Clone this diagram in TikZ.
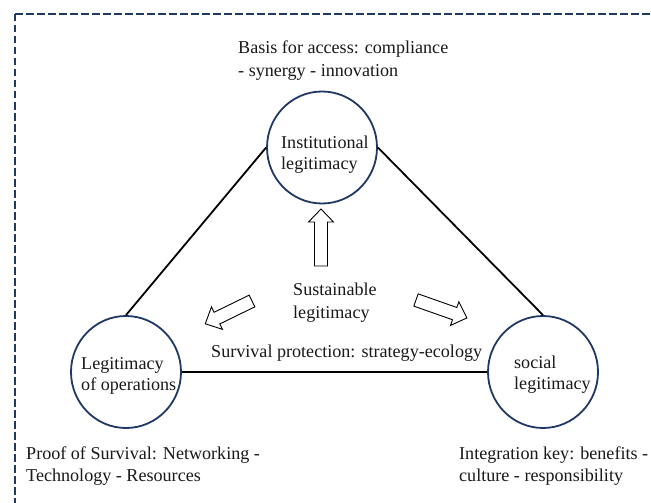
\documentclass[tikz,border=0pt]{standalone}
\usepackage{fontspec}
\setmainfont{Liberation Serif}
\usetikzlibrary{shapes.geometric}
\definecolor{navy}{RGB}{32,56,100}

% hollow block arrow: tail x, tail y, direction angle, length
\newcommand\hollowarrow[4]{%
  \draw[blockarrow, shift={(#1,#2)}, rotate=#3]
    (0,-6.5) -- ({#4-13},-6.5) -- ({#4-13},-12.5) -- (#4,0)
    -- ({#4-13},12.5) -- ({#4-13},6.5) -- (0,6.5) -- cycle;}

\begin{document}
\begin{tikzpicture}[x=1pt,y=-1pt,
  ring/.style={ellipse, draw=navy, line width=1.8pt, minimum width=110pt,
    minimum height=112pt, inner sep=0pt},
  link/.style={draw=black, line width=1.8pt},
  txt/.style={anchor=base west, inner sep=0pt, text=black!90,
    font=\fontsize{18.1}{23}\selectfont},
  blockarrow/.style={draw=black, fill=white, line width=0.9pt, line join=miter},
  frame/.style={draw=navy, line width=2pt, dash pattern=on 7.5pt off 3.5pt}]

\useasboundingbox (0,0) rectangle (651,503);
\fill[white] (0,0) rectangle (651,503);

% dashed frame (top and left sides)
\coordinate (corner) at (15,14);
\coordinate (topend) at (651,14);
\coordinate (leftend) at (15,503);
\draw[frame] (corner) -- (topend);
\draw[frame] (corner) -- (leftend);

% the three legitimacy circles
\node[ring] (inst) at (322,147.5) {};
\node[ring] (ops) at (126,372) {};
\node[ring] (soc) at (543,372) {};

% triangle sides
\draw[link] (inst.west) -- (ops.north);
\draw[link] (inst.east) -- (soc.north);
\draw[link] (ops.east) -- (soc.west);

% hollow arrows out of the centre
\hollowarrow{321}{266}{90}{57}
\hollowarrow{252}{301}{206}{52}
\hollowarrow{416}{300}{-19.4}{54}

% texts
\node[txt] (basis1) at (238,53.5) {Basis for access: compliance};
\node[txt] (basis2) at (238,76.5) {- synergy - innovation};
\node[txt] (inst1) at (281,148) {Institutional};
\node[txt] (inst2) at (281,169) {legitimacy};
\node[txt] (sust1) at (293,295) {Sustainable};
\node[txt] (sust2) at (293,318) {legitimacy};
\node[txt] (surv) at (211,357.5) {Survival protection: strategy-ecology};
\node[txt] (ops1) at (81,369) {Legitimacy};
\node[txt] (ops2) at (81,390) {of operations};
\node[txt] (soc1) at (514,368) {social};
\node[txt] (soc2) at (514,389) {legitimacy};
\node[txt] (proof1) at (26,459) {Proof of Survival: Networking -};
\node[txt] (proof2) at (26,481.5) {Technology - Resources};
\node[txt] (integ1) at (459,459) {Integration key: benefits -};
\node[txt] (integ2) at (459,481.5) {culture - responsibility};
\end{tikzpicture}
\end{document}
